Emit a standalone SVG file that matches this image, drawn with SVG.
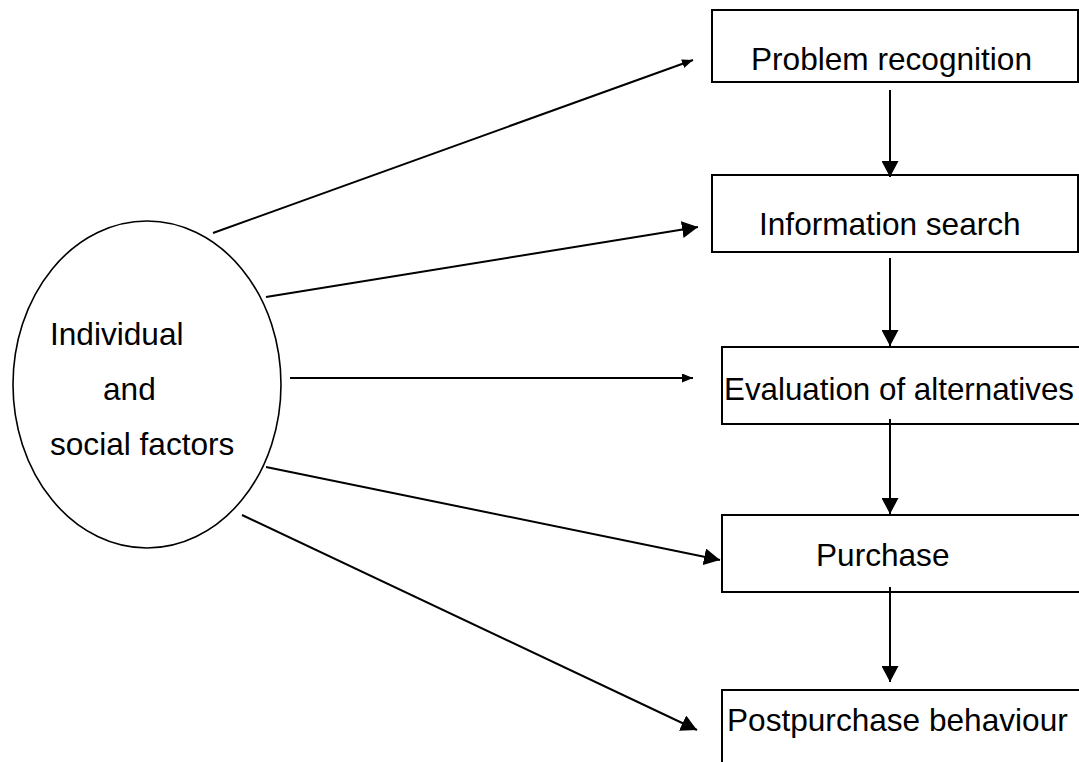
<svg xmlns="http://www.w3.org/2000/svg" width="1079" height="762" viewBox="0 0 1079 762">
<style>
.box{fill:#fff;stroke:#000;stroke-width:2}
.ell{fill:#fff;stroke:#000;stroke-width:1.6}
.lbl{font-family:"Liberation Sans",Arial,sans-serif;font-size:31.6px;fill:#000}
.conn{stroke:#000;stroke-width:2;fill:none}
</style>
<defs>
<marker id="big" markerUnits="userSpaceOnUse" markerWidth="17" markerHeight="17" refX="16" refY="8.5" orient="auto">
<path d="M0,0 L16,8.5 L0,17 z" fill="#000"/>
</marker>
<marker id="small" markerUnits="userSpaceOnUse" markerWidth="12" markerHeight="9" refX="11" refY="4.5" orient="auto">
<path d="M0,0 L11,4.5 L0,9 z" fill="#000"/>
</marker>
</defs>
<rect width="1079" height="762" fill="#fff"/>
<g id="factors">
<ellipse class="ell" cx="147" cy="384.5" rx="134" ry="163.5"/>
<text class="lbl" x="50" y="345">Individual</text>
<text class="lbl" x="103" y="400">and</text>
<text class="lbl" x="50" y="455">social factors</text>
</g>
<g id="problem">
<rect class="box" x="712" y="10" width="366" height="72"/>
<text class="lbl" x="751" y="70">Problem recognition</text>
</g>
<g id="information">
<rect class="box" x="712" y="175" width="366" height="77"/>
<text class="lbl" x="759" y="235">Information search</text>
</g>
<g id="evaluation">
<rect class="box" x="722" y="347" width="370" height="77"/>
<text class="lbl" x="724" y="400" textLength="350" lengthAdjust="spacingAndGlyphs">Evaluation of alternatives</text>
</g>
<g id="purchase">
<rect class="box" x="722" y="515" width="370" height="77"/>
<text class="lbl" x="816" y="566">Purchase</text>
</g>
<g id="postpurchase">
<rect class="box" x="722" y="690" width="370" height="90"/>
<text class="lbl" x="727" y="731">Postpurchase behaviour</text>
</g>
<g id="connectors">
<line class="conn" x1="213" y1="233" x2="693" y2="60" marker-end="url(#small)"/>
<line class="conn" x1="266" y1="297" x2="698" y2="227" marker-end="url(#big)"/>
<line class="conn" x1="290" y1="378" x2="693" y2="378" marker-end="url(#small)"/>
<line class="conn" x1="266" y1="467" x2="720" y2="560" marker-end="url(#big)"/>
<line class="conn" x1="242" y1="515" x2="697" y2="730" marker-end="url(#big)"/>
<line class="conn" x1="890" y1="90" x2="890" y2="177" marker-end="url(#big)"/>
<line class="conn" x1="890" y1="258" x2="890" y2="346" marker-end="url(#big)"/>
<line class="conn" x1="890" y1="419" x2="890" y2="514" marker-end="url(#big)"/>
<line class="conn" x1="890" y1="587" x2="890" y2="682" marker-end="url(#big)"/>
</g>
</svg>
